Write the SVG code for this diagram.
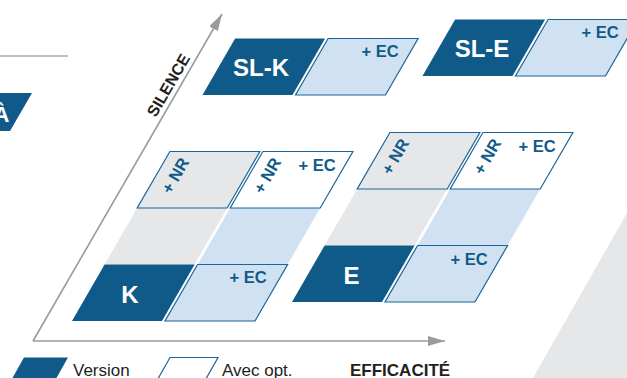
<svg xmlns="http://www.w3.org/2000/svg" width="627" height="378" viewBox="0 0 627 378">
  <style>
    .dark { fill: #105a8a; }
    .light { fill: #d0e2f2; stroke: #1b659a; stroke-width: 1.2; }
    .grayc { fill: #e6e7e8; stroke: #1b659a; stroke-width: 1.2; }
    .whitec { fill: #ffffff; stroke: #1b659a; stroke-width: 1.2; }
    .band-gray { fill: #e6e7e8; }
    .band-blue { fill: #d0e2f2; }
    .big { font-family: "Liberation Sans", Arial, sans-serif; font-weight: bold; font-size: 24px; fill: #ffffff; text-anchor: middle; }
    .opt { font-family: "Liberation Sans", Arial, sans-serif; font-weight: bold; font-size: 16.5px; fill: #105a8a; }
    .nr { font-family: "Liberation Sans", Arial, sans-serif; font-weight: bold; font-size: 16.5px; fill: #105a8a; text-anchor: middle; }
    .axis { stroke: #9b9b9b; stroke-width: 1.6; fill: none; }
    .axlabel { font-family: "Liberation Sans", Arial, sans-serif; font-weight: bold; font-size: 17px; fill: #231f20; }
    .legend { font-family: "Liberation Sans", Arial, sans-serif; font-size: 17px; fill: #231f20; }
  </style>
  <defs>
    <marker id="arrow" viewBox="0 0 17 10" markerWidth="17" markerHeight="10" refX="17" refY="5" orient="auto" markerUnits="userSpaceOnUse">
      <path d="M0,0 L17,5 L0,10 z" fill="#9b9b9b"/>
    </marker>
  </defs>

  <!-- background shapes -->
  <polygon points="627,213 533,378 627,378" fill="#e6e7e8"/>
  <line x1="0" y1="56" x2="68" y2="56" stroke="#aaaaaa" stroke-width="1.6"/>
  <g id="node-a">
    <polygon class="dark" points="-10,93 32,93 10,131 -10,131"/>
    <text class="big" x="1.5" y="122" style="font-size:22px">À</text>
  </g>

  <!-- axes -->
  <g id="connectors">
    <line class="axis" x1="33" y1="341" x2="445" y2="341" marker-end="url(#arrow)"/>
    <line class="axis" x1="33" y1="341" x2="222" y2="14" marker-end="url(#arrow)"/>
  </g>
  <text class="axlabel" x="0" y="6" text-anchor="middle" style="font-size:16px" transform="translate(168,85) rotate(-60)">SILENCE</text>
  <text class="axlabel" x="350" y="376">EFFICACITÉ</text>

  <!-- K family -->
  <g id="band-k">
    <polygon class="band-gray" points="104.6,264.5 194.6,264.5 227.2,208 137.2,208"/>
    <polygon class="band-blue" points="197.6,264.5 287.6,264.5 320.2,208 230.2,208"/>
  </g>
  <g id="node-k">
    <polygon class="dark" points="72,321 162,321 194.6,264.5 104.6,264.5"/>
    <text class="big" x="130" y="303">K</text>
  </g>
  <g id="node-k-ec">
    <polygon class="light" points="165,321 255,321 287.6,264.5 197.6,264.5"/>
    <text class="opt" x="229.5" y="283">+ EC</text>
  </g>
  <g id="node-k-nr">
    <polygon class="grayc" points="137.2,208 227.2,208 259.9,151.5 169.9,151.5"/>
    <text class="nr" x="0" y="6" transform="translate(175,175.5) rotate(-60)">+ NR</text>
  </g>
  <g id="node-k-nr-ec">
    <polygon class="whitec" points="230.2,208 320.2,208 352.9,151.5 262.9,151.5"/>
    <text class="nr" x="0" y="6" transform="translate(267,175.5) rotate(-60)">+ NR</text>
    <text class="opt" x="298.5" y="171">+ EC</text>
  </g>
  <g id="node-sl-k">
    <polygon class="dark" points="202.5,95 292.5,95 325.1,38.5 235.1,38.5"/>
    <text class="big" x="261" y="76">SL-K</text>
  </g>
  <g id="node-sl-k-ec">
    <polygon class="light" points="295.5,95 385.5,95 418.1,38.5 328.1,38.5"/>
    <text class="opt" x="361.5" y="57">+ EC</text>
  </g>

  <!-- E family -->
  <g id="band-e">
    <polygon class="band-gray" points="324.6,245.5 414.6,245.5 447.2,189 357.2,189"/>
    <polygon class="band-blue" points="417.6,245.5 507.6,245.5 540.2,189 450.2,189"/>
  </g>
  <g id="node-e">
    <polygon class="dark" points="292,302 382,302 414.6,245.5 324.6,245.5"/>
    <text class="big" x="351.5" y="284">E</text>
  </g>
  <g id="node-e-ec">
    <polygon class="light" points="385,302 475,302 507.6,245.5 417.6,245.5"/>
    <text class="opt" x="450.5" y="265">+ EC</text>
  </g>
  <g id="node-e-nr">
    <polygon class="grayc" points="357.2,189 447.2,189 479.9,132.5 389.9,132.5"/>
    <text class="nr" x="0" y="6" transform="translate(395,156.5) rotate(-60)">+ NR</text>
  </g>
  <g id="node-e-nr-ec">
    <polygon class="whitec" points="450.2,189 540.2,189 572.9,132.5 482.9,132.5"/>
    <text class="nr" x="0" y="6" transform="translate(487,156.5) rotate(-60)">+ NR</text>
    <text class="opt" x="518.5" y="152">+ EC</text>
  </g>
  <g id="node-sl-e">
    <polygon class="dark" points="422.5,76 512.5,76 545.1,19.5 455.1,19.5"/>
    <text class="big" x="482" y="57">SL-E</text>
  </g>
  <g id="node-sl-e-ec">
    <polygon class="light" points="515.5,76 605.5,76 638.1,19.5 548.1,19.5"/>
    <text class="opt" x="581.5" y="38">+ EC</text>
  </g>

  <!-- legend -->
  <g id="legend-version">
    <polygon class="dark" points="24,357.5 68,357.5 55.3,380 11.3,380"/>
    <text class="legend" x="73" y="375.5">Version</text>
  </g>
  <g id="legend-option">
    <polygon class="whitec" points="170,357.5 218,357.5 205.3,380 157.3,380"/>
    <text class="legend" x="222" y="375.5">Avec opt.</text>
  </g>
</svg>
